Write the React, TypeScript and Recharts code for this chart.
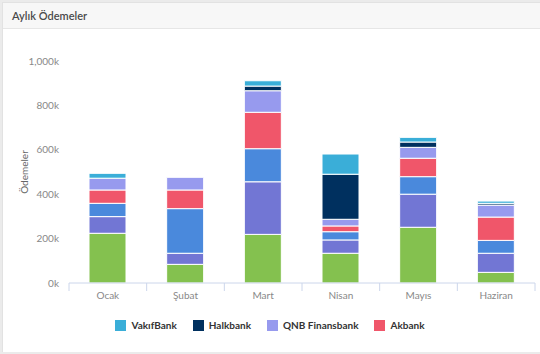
import React from 'react';
import { BarChart, Bar, XAxis, YAxis } from 'recharts';

const months = ['Ocak', 'Şubat', 'Mart', 'Nisan', 'Mayıs', 'Haziran'];
const ziraat = [224, 84, 219, 134, 251, 48];
const yapiKredi = [75, 50, 237, 60, 149, 86];
const garanti = [60, 201, 149, 37, 79, 58];
const akbank = [60, 84, 164, 26, 83, 105];
const qnb = [53, 57, 97, 30, 49, 54];
const halkbank = [0, 0, 21, 203, 24, 8];
const vakifbank = [22, 0, 24, 91, 21, 10];
const yTicks = [0, 200, 400, 600, 800, 1000];

const series = [
  { key: 'ziraat', name: 'Ziraat Bankası', color: '#84c14f', values: ziraat, legend: false },
  { key: 'yapiKredi', name: 'Yapı Kredi', color: '#7276d4', values: yapiKredi, legend: false },
  { key: 'garanti', name: 'Garanti BBVA', color: '#4a89dc', values: garanti, legend: false },
  { key: 'akbank', name: 'Akbank', color: '#f0566a', values: akbank, legend: true },
  { key: 'qnb', name: 'QNB Finansbank', color: '#979aee', values: qnb, legend: true },
  { key: 'halkbank', name: 'Halkbank', color: '#00305f', values: halkbank, legend: true },
  { key: 'vakifbank', name: 'VakıfBank', color: '#3aaed8', values: vakifbank, legend: true },
];

const data = months.map((m, i) => {
  const row: Record<string, string | number> = { month: m };
  series.forEach((s) => {
    row[s.key] = s.values[i];
  });
  return row;
});

const CHART_W = 540;
const CHART_H = 354;
const PLOT_LEFT = 69;
const PLOT_RIGHT = 535;
const BAND = (PLOT_RIGHT - PLOT_LEFT) / months.length;
const FONT = 'Lato, "Open Sans", sans-serif';

const XTick = (props: any) => {
  const { x, y, payload, index } = props;
  return (
    <g>
      <line x1={x - BAND / 2} x2={x - BAND / 2} y1={y} y2={y + 8} stroke="#ccd6eb" strokeWidth={1} />
      {index === months.length - 1 && (
        <line x1={x + BAND / 2} x2={x + BAND / 2} y1={y} y2={y + 8} stroke="#ccd6eb" strokeWidth={1} />
      )}
      <text x={x} y={y + 16} textAnchor="middle" fill="#888" fontSize={10} fontFamily={FONT}>
        {payload.value}
      </text>
    </g>
  );
};

const legendItems = series.filter((s) => s.legend).reverse();

export default function App() {
  return (
    <div
      style={{
        position: 'absolute',
        left: 0,
        top: 0,
        width: 540,
        height: 354,
        background: '#ebebeb',
        fontFamily: FONT,
        overflow: 'hidden',
      }}
    >
      <div
        style={{
          position: 'absolute',
          left: 2,
          top: 2,
          width: 538,
          height: 350,
          background: '#fff',
          boxSizing: 'border-box',
          borderLeft: '1px solid #e2e2e2',
          borderTop: '1px solid #e2e2e2',
        }}
      >
        <div
          style={{
            height: 26,
            background: '#f7f7f7',
            borderBottom: '1px solid #e6e6e6',
            boxSizing: 'border-box',
            paddingLeft: 9,
            fontSize: 11,
            fontWeight: 600,
            color: '#4a4a4a',
            lineHeight: '25px',
          }}
        >
          Aylık Ödemeler
        </div>
      </div>
      <div style={{ position: 'absolute', left: 0, top: 0 }}>
        <BarChart
          width={CHART_W}
          height={CHART_H}
          data={data}
          margin={{ top: 61, right: CHART_W - PLOT_RIGHT, bottom: 41, left: 0 }}
          barSize={37}
        >
          <XAxis
            dataKey="month"
            height={30}
            axisLine={{ stroke: '#ccd6eb' }}
            tickLine={false}
            tickSize={0}
            tickMargin={0}
            tick={<XTick />}
            interval={0}
          />
          <YAxis
            width={PLOT_LEFT}
            domain={[0, 1000]}
            ticks={yTicks}
            axisLine={false}
            tickLine={false}
            tickMargin={4}
            tick={{ fill: '#888', fontSize: 10, fontFamily: FONT }}
            tickFormatter={(v: number) => `${v.toLocaleString('en-US')}k`}
            label={{
              value: 'Ödemeler',
              angle: -90,
              position: 'insideLeft',
              dx: 19,
              style: { fill: '#666', fontSize: 10, fontFamily: FONT, textAnchor: 'middle' },
            }}
          />
          {series.map((s) => (
            <Bar
              key={s.key}
              dataKey={s.key}
              name={s.name}
              stackId="a"
              fill={s.color}
              stroke="#ffffff"
              strokeWidth={1}
              isAnimationActive={false}
            />
          ))}
        </BarChart>
      </div>
      <div
        style={{
          position: 'absolute',
          left: 0,
          top: 319,
          width: 540,
          display: 'flex',
          justifyContent: 'center',
          alignItems: 'center',
          gap: 16,
          fontSize: 10,
          fontWeight: 700,
          color: '#333',
        }}
      >
        {legendItems.map((s) => (
          <div key={s.key} style={{ display: 'flex', alignItems: 'center' }}>
            <span
              style={{ display: 'inline-block', width: 11, height: 11, background: s.color, marginRight: 5 }}
            />
            <span>{s.name}</span>
          </div>
        ))}
      </div>
    </div>
  );
}
